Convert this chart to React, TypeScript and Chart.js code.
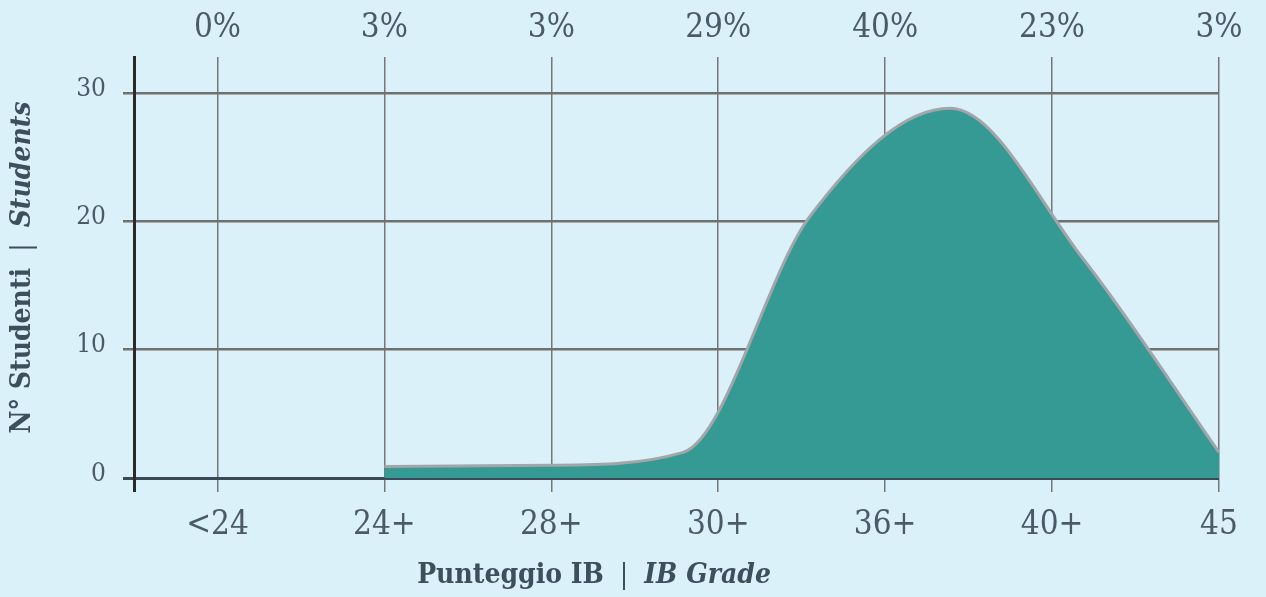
import React, { useEffect, useRef } from 'react';
import { Chart, registerables } from 'chart.js';

Chart.register(...registerables);

// ---- data ----
const gradeLabels = ['<24', '24+', '28+', '30+', '36+', '40+', '45'];
const percentLabels = ['0%', '3%', '3%', '29%', '40%', '23%', '3%'];
// positions of the curve's points on the grade axis (category index units)
const curveGrade = [1, 2, 2.79, 3.55, 4.39, 5.19, 6];
const curveStudents = [0.9, 1.0, 2.0, 20.4, 28.8, 17.0, 2.0];
const yTickValues = [0, 10, 20, 30];
const yMax = 32.8;
// [text, italic, bold]
const xTitleParts: [string, boolean, boolean][] = [['Punteggio IB', false, true], ['  |  ', false, false], ['IB Grade', true, true]];
const yTitleParts: [string, boolean, boolean][] = [['N° Studenti', false, true], ['  |  ', false, false], ['Students', true, true]];

// ---- styles ----
const BG = '#daf1fa';
const SERIF = '"DejaVu Serif Condensed", "DejaVu Serif", serif';
const TICK_COLOR = '#4b5a66';
const TITLE_COLOR = '#3d4e5c';
const GRID_V = '#777777';
const GRID_H = '#707070';
const ZERO_LINE = '#3b4a56';
const AXIS_DARK = '#2a2a2a';
const FILL = '#359a93';
const LINE = '#a2a6aa';

function drawParts(ctx: CanvasRenderingContext2D, parts: [string, boolean, boolean][], size: number, cx: number, cy: number) {
  const fonts = parts.map(([, it, bold]) => `${it ? 'italic ' : ''}${bold ? 'bold ' : ''}${size}px ${SERIF}`);
  const widths = parts.map(([t], i) => {
    ctx.font = fonts[i];
    return ctx.measureText(t).width;
  });
  const total = widths.reduce((a, b) => a + b, 0);
  let x = cx - total / 2;
  ctx.textAlign = 'left';
  ctx.textBaseline = 'middle';
  parts.forEach(([t], i) => {
    ctx.font = fonts[i];
    ctx.fillText(t, x, cy);
    x += widths[i];
  });
}

const bgPlugin = {
  id: 'bgFill',
  beforeDraw(chart: any) {
    const { ctx, width, height } = chart;
    ctx.save();
    ctx.fillStyle = BG;
    ctx.fillRect(0, 0, width, height);
    ctx.restore();
  },
};

const titlePlugin = {
  id: 'mixedTitles',
  afterDraw(chart: any) {
    const { ctx, chartArea } = chart;
    ctx.save();
    ctx.fillStyle = TITLE_COLOR;
    drawParts(ctx, xTitleParts, 28, chartArea.left + (chartArea.right - chartArea.left) * 0.424, 576);
    ctx.translate(23, (chartArea.top + chartArea.bottom) / 2);
    ctx.rotate(-Math.PI / 2);
    drawParts(ctx, yTitleParts, 28, 0, 0);
    ctx.restore();
  },
};

export default function App() {
  const canvasRef = useRef<HTMLCanvasElement | null>(null);

  useEffect(() => {
    document.body.style.margin = '0';
    document.body.style.background = BG;
    const canvas = canvasRef.current;
    if (!canvas) return;
    const chart = new Chart(canvas, {
      type: 'line',
      data: {
        datasets: [
          {
            data: curveGrade.map((g, i) => ({ x: g, y: curveStudents[i] })),
            borderColor: LINE,
            borderWidth: 3,
            backgroundColor: FILL,
            fill: 'origin',
            pointRadius: 0,
            cubicInterpolationMode: 'monotone',
            xAxisID: 'x',
            yAxisID: 'y',
          },
        ],
      },
      options: {
        animation: false,
        responsive: true,
        maintainAspectRatio: false,
        layout: { padding: { left: 0, right: 47, top: 0, bottom: 0 } },
        plugins: {
          legend: { display: false },
          tooltip: { enabled: false },
          title: { display: false },
        },
        scales: {
          x: {
            type: 'linear',
            position: 'bottom',
            min: -0.5,
            max: 6,
            z: 1,
            afterBuildTicks: (s: any) => {
              s.ticks = [{ value: -0.5 }, ...gradeLabels.map((_, i) => ({ value: i }))];
            },
            afterFit: (s: any) => {
              s.height = 119;
            },
            grid: {
              color: (c: any) => (c.tick && c.tick.value < 0 ? AXIS_DARK : GRID_V),
              lineWidth: (c: any) => (c.tick && c.tick.value < 0 ? 3 : 1.5),
              tickLength: 14,
            },
            border: { display: false },
            ticks: {
              callback: (v: any) => (Number.isInteger(v) ? gradeLabels[v] ?? '' : ''),
              font: { family: SERIF, size: 33 },
              color: TICK_COLOR,
              padding: 14,
              maxRotation: 0,
              autoSkip: false,
            },
          },
          x2: {
            type: 'linear',
            position: 'top',
            min: -0.5,
            max: 6,
            afterBuildTicks: (s: any) => {
              s.ticks = percentLabels.map((_, i) => ({ value: i }));
            },
            afterFit: (s: any) => {
              s.height = 57;
            },
            grid: { display: false, drawTicks: false },
            border: { display: false },
            ticks: {
              callback: (v: any) => percentLabels[v] ?? '',
              font: { family: SERIF, size: 33 },
              color: TICK_COLOR,
              padding: 9,
              maxRotation: 0,
              autoSkip: false,
            },
          },
          y: {
            type: 'linear',
            min: 0,
            max: yMax,
            z: 1,
            afterBuildTicks: (s: any) => {
              s.ticks = yTickValues.map((v) => ({ value: v }));
            },
            afterFit: (s: any) => {
              s.width = 134;
            },
            grid: {
              color: (c: any) => (c.tick && c.tick.value === 0 ? ZERO_LINE : GRID_H),
              lineWidth: (c: any) => (c.tick && c.tick.value === 0 ? 3 : 2.5),
              tickLength: 11,
            },
            border: { display: true, color: AXIS_DARK, width: 3 },
            ticks: {
              font: { family: SERIF, size: 26 },
              color: TICK_COLOR,
              padding: 17,
              labelOffset: -4,
            },
          },
        },
      },
      plugins: [bgPlugin, titlePlugin],
    });
    return () => chart.destroy();
  }, []);

  return (
    <div style={{ position: 'fixed', left: 0, top: 0, width: 1266, height: 597, background: BG }}>
      <canvas ref={canvasRef} />
    </div>
  );
}
